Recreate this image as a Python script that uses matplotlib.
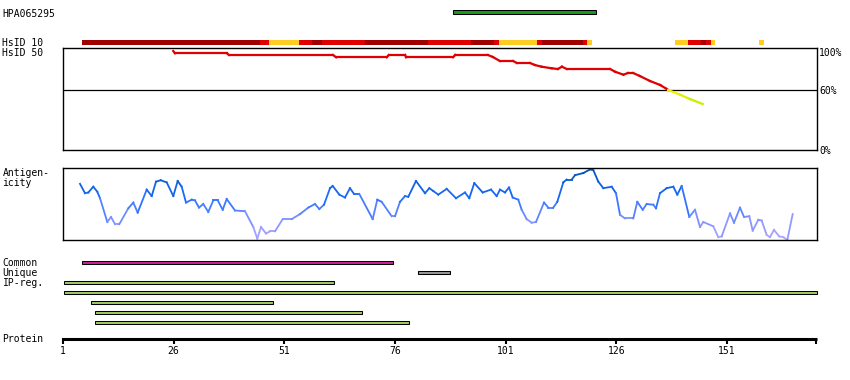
import numpy as np
import matplotlib
matplotlib.use("Agg")
import matplotlib.pyplot as plt
from matplotlib.collections import LineCollection
from matplotlib.colors import LinearSegmentedColormap, to_rgb

plt.rcParams['font.family'] = ['DejaVu Sans Mono']
plt.rcParams['font.size'] = 7

# ---- data (residue positions) ----
protein_len = 171
tick_pos = [1, 26, 51, 76, 101, 126, 151]
tick_labels = ["1", "26", "51", "76", "101", "126", "151"]

antibody = "HPA065295"
antibody_start, antibody_end = 89.2, 121.3

# HsID 10 blocks
hsid10_start = [5.3, 45.5, 47.5, 54.3, 57.2, 59.5, 69.2, 83.5, 93.2, 98.4, 99.5,
                108.1, 109.2, 118.5, 119.4, 139.3, 142.2, 145.1, 146.3, 147.4, 158.2]
hsid10_end = [45.5, 47.5, 54.3, 57.2, 59.5, 69.2, 83.5, 93.2, 98.4, 99.5, 108.1,
              109.2, 118.5, 119.4, 120.5, 142.2, 145.1, 146.3, 147.4, 148.3, 159.4]
hsid10_level = ["high", "mid", "low", "mid", "high", "mid", "high", "mid", "high", "mid", "low",
                "mid", "high", "mid", "low", "low", "mid", "high", "mid", "low", "low"]

# HsID 50 identity (%)
hsid50_pos = [25.9, 26.3, 38.0, 38.5, 62.0, 62.7, 74.1, 74.6, 78.3, 78.5, 89.1, 89.6,
              97.0, 98.1, 99.7, 102.7, 103.5, 106.5, 107.6, 109.1, 111.4, 112.8, 113.7,
              114.8, 124.6, 125.7, 127.6, 128.6, 129.8, 131.3, 133.6, 135.9, 137.4, 137.7,
              140.4, 142.6, 145.5]
hsid50_pct = [99, 96.7, 96.7, 95, 95, 92.7, 92.7, 95, 95, 92.7, 92.7, 95,
              95, 93, 89, 89, 87, 87, 85, 83.3, 81.7, 81, 83.3,
              81, 81, 78.3, 75.3, 77, 77, 74, 69, 65, 61, 60,
              55.3, 51, 46]

# antigenicity (relative score 0..1)
anti_pos = [4.84, 5.97, 6.72, 7.84, 8.75, 9.36, 11.01, 11.84, 12.75, 13.72, 15.75, 16.88,
            17.87, 19.91, 21.04, 22.01, 23.07, 24.43, 25.92, 26.91, 27.81, 28.79, 30.07,
            30.82, 31.72, 32.69, 33.82, 34.95, 35.95, 37.08, 37.98, 39.85, 42.11, 43.99,
            44.89, 45.73, 46.86, 47.76, 48.89, 50.63, 52.66, 54.54, 56.41, 57.93, 58.90,
            59.96, 61.32, 61.93, 63.42, 64.70, 65.83, 66.74, 67.93, 70.96, 72.00, 72.99,
            75.25, 76.00, 77.13, 78.26, 79.00, 80.74, 82.78, 83.75, 84.65, 85.78, 87.68,
            89.78, 91.81, 92.78, 93.91, 95.81, 97.69, 98.97, 99.72, 100.85, 101.75, 102.59,
            103.85, 104.62, 105.75, 106.88, 107.85, 109.66, 110.63, 111.76, 112.66, 114.02,
            114.78, 115.92, 116.66, 118.54, 120.05, 120.80, 121.93, 123.06, 124.95, 125.92,
            126.83, 127.96, 129.83, 130.74, 131.96, 132.86, 134.35, 134.96, 135.86, 137.38,
            138.87, 139.77, 140.76, 142.48, 143.77, 144.90, 145.64, 147.90, 149.03, 149.80,
            151.68, 152.58, 153.94, 154.84, 156.04, 156.80, 158.07, 158.83, 159.96, 160.71,
            161.61, 162.81, 163.72, 164.62, 165.84]
anti_val = [0.78, 0.65, 0.66, 0.74, 0.67, 0.58, 0.25, 0.32, 0.22, 0.22, 0.44, 0.52,
            0.38, 0.70, 0.61, 0.81, 0.83, 0.80, 0.61, 0.82, 0.74, 0.52, 0.56,
            0.55, 0.45, 0.50, 0.39, 0.55, 0.55, 0.42, 0.57, 0.41, 0.40, 0.18,
            0.02, 0.18, 0.09, 0.12, 0.12, 0.29, 0.29, 0.36, 0.45, 0.50, 0.43,
            0.49, 0.72, 0.75, 0.63, 0.59, 0.72, 0.64, 0.64, 0.29, 0.56, 0.53,
            0.33, 0.33, 0.53, 0.61, 0.60, 0.82, 0.65, 0.72, 0.68, 0.63, 0.71,
            0.58, 0.66, 0.58, 0.79, 0.66, 0.70, 0.61, 0.70, 0.66, 0.73, 0.59,
            0.56, 0.42, 0.29, 0.24, 0.25, 0.52, 0.45, 0.45, 0.53, 0.80,
            0.84, 0.84, 0.90, 0.93, 0.98, 0.97, 0.81, 0.72, 0.74, 0.65,
            0.35, 0.30, 0.30, 0.53, 0.42, 0.50, 0.49, 0.44, 0.65, 0.72,
            0.74, 0.63, 0.75, 0.32, 0.42, 0.18, 0.25, 0.19, 0.04, 0.05,
            0.37, 0.24, 0.45, 0.32, 0.33, 0.13, 0.28, 0.27, 0.07, 0.04,
            0.14, 0.05, 0.04, 0.00, 0.36]

common_span = (5.36, 75.5)
unique_span = (81.26, 88.35)
ipreg_start = [1.3, 1.3, 7.4, 8.3, 8.3]
ipreg_end = [62.3, 171.3, 48.4, 68.5, 79.2]

# ---- layout (pixels) ----
W, H = 850, 380
PX = 4.4267          # pixels per residue
X0 = 63              # pixel x of residue 1
level_color = {"high": "#a00000", "mid": "#e00000", "low": "#ffcc22"}


def res_at(px):
    return 1 + (px - X0) / PX


fig = plt.figure(figsize=(W / 100, H / 100), dpi=100)
ax = fig.add_axes([0, 0, 1, 1])
ax.set_xlim(res_at(0), res_at(W))
ax.set_ylim(H, 0)
ax.axis("off")

# labels on the left
for txt, yb in [(antibody, 17), ("HsID 10", 46), ("HsID 50", 56), ("Antigen-", 176),
                ("icity", 186), ("Common", 266), ("Unique", 275.5), ("IP-reg.", 285.5),
                ("Protein", 342.5)]:
    ax.text(res_at(2.5), yb, txt, ha="left", va="baseline")

# antibody bar
ax.barh(12.3, antibody_end - antibody_start, left=antibody_start, height=3.8,
        color="#1a9a1a", edgecolor="black", linewidth=0.75)

# HsID 10
for s, e, lv in zip(hsid10_start, hsid10_end, hsid10_level):
    ax.barh(42.5, e - s, left=s, height=5, color=level_color[lv], linewidth=0)

# HsID 50 panel
ax2 = fig.add_axes([63 / W, 1 - 150 / H, (817 - 63) / W, (150 - 48) / H])
ax2.set_xlim(1, res_at(817))
ax2.set_ylim(0, 102)
ax2.set_xticks([])
ax2.set_yticks([])
for sp in ax2.spines.values():
    sp.set_linewidth(1.0)
ax2.axhline(60, color="black", lw=0.9)
pts = np.column_stack([hsid50_pos, hsid50_pct])
segs = np.stack([pts[:-1], pts[1:]], axis=1)
yel = np.array(to_rgb("#ffee00"))
lime = np.array(to_rgb("#bbee00"))
seg_cols = []
for a, b in zip(hsid50_pct[:-1], hsid50_pct[1:]):
    m = (a + b) / 2
    if m >= 60:
        seg_cols.append(to_rgb("#e00000"))
    else:
        t = min(1, (60 - m) / 14)
        seg_cols.append(tuple(yel * (1 - t) + lime * t))
ax2.add_collection(LineCollection(segs, colors=seg_cols, linewidths=1.6, capstyle="projecting"))
for lbl, yb in [("100%", 56), ("60%", 94), ("0%", 153.5)]:
    ax.text(res_at(819), yb, lbl, ha="left", va="baseline")

# antigenicity panel
ax3 = fig.add_axes([63 / W, 1 - 240 / H, (817 - 63) / W, (240 - 168) / H])
ax3.set_xlim(1, res_at(817))
ax3.set_ylim(0, 1)
ax3.set_xticks([])
ax3.set_yticks([])
for sp in ax3.spines.values():
    sp.set_linewidth(1.0)
cmap = LinearSegmentedColormap.from_list(
    "anti", [(0, "#b8a8ff"), (0.3, "#7a90ff"), (0.6, "#1c6cff"), (1.0, "#0050b0")])
apts = np.column_stack([anti_pos, anti_val])
asegs = np.stack([apts[:-1], apts[1:]], axis=1)
amid = (np.array(anti_val[:-1]) + np.array(anti_val[1:])) / 2
lc = LineCollection(asegs, cmap=cmap, linewidths=1.3, capstyle="projecting")
lc.set_array(amid)
lc.set_clim(0, 1)
ax3.add_collection(lc)

# common / unique / IP-reg bars
ax.barh(262.3, common_span[1] - common_span[0], left=common_span[0], height=3.3,
        color="#cc2299", edgecolor="black", linewidth=0.75)
ax.barh(272.3, unique_span[1] - unique_span[0], left=unique_span[0], height=3.3,
        color="#999999", edgecolor="black", linewidth=0.75)
for i, (s, e) in enumerate(zip(ipreg_start, ipreg_end)):
    ax.barh(282.3 + 10 * i, e - s, left=s, height=3.3,
            color="#a0cc60", edgecolor="black", linewidth=0.75)

# protein axis
ax.hlines(339.3, 1, res_at(816.7), color="black", lw=2.2)
ax.vlines(tick_pos + [res_at(816.2)], 338, 343.5, color="black", lw=1.5)
for p, lbl in zip(tick_pos, tick_labels):
    ax.text(p, 354, lbl, ha="center", va="baseline")

fig.savefig("out.png", dpi=100)
